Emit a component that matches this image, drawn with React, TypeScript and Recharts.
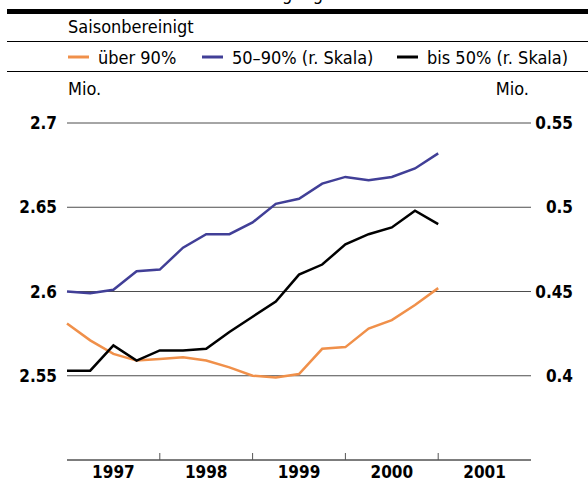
import React from 'react';
import { LineChart, Line, XAxis, YAxis, CartesianGrid, Legend } from 'recharts';

// quarter index 0..16 (1997 Q1 .. end 2000)
const quarterIndex = [0, 1, 2, 3, 4, 5, 6, 7, 8, 9, 10, 11, 12, 13, 14, 15, 16];
// über 90% (left scale, Mio.)
const ueber90 = [2.581, 2.571, 2.563, 2.559, 2.56, 2.561, 2.559, 2.555, 2.55, 2.549, 2.551, 2.566, 2.567, 2.578, 2.583, 2.592, 2.602];
// 50–90% (right scale, Mio.)
const mid5090 = [0.45, 0.449, 0.451, 0.462, 0.463, 0.476, 0.484, 0.484, 0.491, 0.502, 0.505, 0.514, 0.518, 0.516, 0.518, 0.523, 0.532];
// bis 50% (right scale, Mio.)
const bis50 = [0.403, 0.403, 0.418, 0.409, 0.415, 0.415, 0.416, 0.426, 0.435, 0.444, 0.46, 0.466, 0.478, 0.484, 0.488, 0.498, 0.49];

const years = ['1997', '1998', '1999', '2000', '2001'];
const leftTicks = [2.55, 2.6, 2.65, 2.7];
const rightTicks = [0.4, 0.45, 0.5, 0.55];
const xTicks = [2, 4, 6, 8, 10, 12, 14, 16, 18];

const seriesNames = ['über 90%', '50–90% (r. Skala)', 'bis 50% (r. Skala)'];
const colors = ['#F0904A', '#413F97', '#000000'];

const data = quarterIndex.map((q, i) => ({ q, a: ueber90[i], b: mid5090[i], c: bis50[i] }));

const FONT = "'DejaVu Sans Condensed', 'DejaVu Sans', sans-serif";

const LeftTick = (props: any) => {
  const { x, y, payload } = props;
  return (
    <text x={x - 10} y={y} dy="0.36em" textAnchor="end" fontFamily={FONT} fontWeight="bold" fontSize={17} fill="#000">
      {String(payload.value)}
    </text>
  );
};

const RightTick = (props: any) => {
  const { x, y, payload } = props;
  return (
    <text x={x + 42} y={y} dy="0.36em" textAnchor="end" fontFamily={FONT} fontWeight="bold" fontSize={17} fill="#000">
      {String(payload.value)}
    </text>
  );
};

const XTick = (props: any) => {
  const { x, y, payload } = props;
  const v = payload.value as number;
  if (v % 4 === 0) {
    return <line x1={x} x2={x} y1={y} y2={y - 7} stroke="#555" strokeWidth={1} />;
  }
  const idx = Math.floor(v / 4);
  return (
    <text x={x} y={y + 18} textAnchor="middle" fontFamily={FONT} fontWeight="bold" fontSize={17} fill="#000">
      {years[idx]}
    </text>
  );
};

const HeaderLegend = () => {
  const itemX = [68, 202, 397];
  return (
    <svg width={588} height={100} style={{ display: 'block' }}>
      <text x={323} y={0} textAnchor="end" fontFamily={FONT} fontSize={18} fill="#000">Beschäftigung</text>
      <rect x={7} y={9} width={581} height={5} fill="#000" />
      <text x={68} y={33} fontFamily={FONT} fontSize={18} fill="#000">Saisonbereinigt</text>
      <line x1={7} x2={588} y1={41.5} y2={41.5} stroke="#000" strokeWidth={1} />
      {seriesNames.map((n, i) => (
        <g key={n}>
          <line x1={itemX[i]} x2={itemX[i] + 21} y1={57} y2={57} stroke={colors[i]} strokeWidth={3} />
          <text x={itemX[i] + 30} y={64} fontFamily={FONT} fontSize={18} fill="#000">{n}</text>
        </g>
      ))}
      <line x1={7} x2={588} y1={71.5} y2={71.5} stroke="#000" strokeWidth={1} />
      <text x={68} y={95} fontFamily={FONT} fontSize={18} fill="#000">Mio.</text>
      <text x={529} y={95} textAnchor="end" fontFamily={FONT} fontSize={18} fill="#000">Mio.</text>
    </svg>
  );
};

export default function App() {
  return (
    <div style={{ position: 'absolute', left: 0, top: 0, width: 588, height: 483, background: '#fff', overflow: 'hidden' }}>
      <LineChart width={588} height={483} data={data} margin={{ top: 23, right: 0, bottom: 0, left: 0 }}>
        <CartesianGrid yAxisId="left" vertical={false} stroke="#4d4d4d" strokeWidth={1} />
        <XAxis
          dataKey="q"
          type="number"
          domain={[0, 20]}
          ticks={xTicks}
          interval={0}
          height={23}
          tickSize={0}
          tickMargin={0}
          axisLine={{ stroke: '#555', strokeWidth: 1 }}
          tickLine={false}
          tick={<XTick />}
        />
        <YAxis
          yAxisId="left"
          orientation="left"
          domain={[2.5, 2.7]}
          ticks={leftTicks}
          interval={0}
          width={67}
          tickSize={0}
          tickMargin={0}
          axisLine={false}
          tickLine={false}
          tick={<LeftTick />}
        />
        <YAxis
          yAxisId="right"
          orientation="right"
          domain={[0.35, 0.55]}
          ticks={rightTicks}
          interval={0}
          width={57}
          tickSize={0}
          tickMargin={0}
          axisLine={false}
          tickLine={false}
          tick={<RightTick />}
        />
        <Legend
          verticalAlign="top"
          align="left"
          content={<HeaderLegend />}
          wrapperStyle={{ position: 'absolute', top: 0, left: 0, width: 588, height: 100 }}
        />
        <Line yAxisId="left" type="linear" dataKey="a" name={seriesNames[0]} stroke={colors[0]} strokeWidth={2.5} dot={false} isAnimationActive={false} />
        <Line yAxisId="right" type="linear" dataKey="b" name={seriesNames[1]} stroke={colors[1]} strokeWidth={2.5} dot={false} isAnimationActive={false} />
        <Line yAxisId="right" type="linear" dataKey="c" name={seriesNames[2]} stroke={colors[2]} strokeWidth={2.5} dot={false} isAnimationActive={false} />
      </LineChart>
    </div>
  );
}
